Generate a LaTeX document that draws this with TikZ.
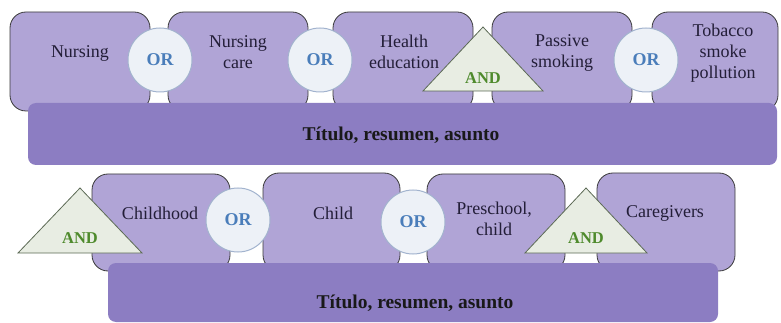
\documentclass[tikz,border=0pt]{standalone}
\usepackage{fontspec}
\setmainfont{Liberation Serif}
\definecolor{boxfill}{HTML}{B0A4D6}
\definecolor{barfill}{HTML}{8C7DC2}
\definecolor{boxline}{HTML}{3A3A3A}
\definecolor{circfill}{HTML}{EDF1F7}
\definecolor{circline}{HTML}{A2B3CE}
\definecolor{ortext}{HTML}{4A7DBA}
\definecolor{trifill}{HTML}{E8EDE3}
\definecolor{triline}{HTML}{5C6A55}
\definecolor{andtext}{HTML}{4E8A2C}
\definecolor{txt}{HTML}{231E38}
\tikzset{
  termbox/.style={draw=boxline, line width=0.8pt, fill=boxfill, rounded corners=16pt},
  barbox/.style={fill=barfill, rounded corners=8pt},
  termtext/.style={align=center, font=\fontsize{18}{21}\selectfont, text=txt, inner sep=0pt},
  bartext/.style={font=\fontsize{19.5}{22}\selectfont\bfseries, text=black!90, inner sep=0pt},
  orcirc/.style={circle, draw=circline, line width=1pt, fill=circfill, minimum size=64pt, inner sep=0pt, font=\fontsize{18}{20}\selectfont\bfseries, text=ortext},
  andtri/.style={draw=triline, line width=0.8pt, fill=trifill, line join=miter},
  andtext/.style={font=\fontsize{16.5}{18}\selectfont\bfseries, text=andtext, inner sep=0pt}
}
\begin{document}
\begin{tikzpicture}[x=1pt,y=-1pt]
\useasboundingbox (0,0) rectangle (781,323);
% top row boxes
\draw[termbox] (10,12) rectangle (150,111);
\draw[termbox] (168,12) rectangle (308,111);
\draw[termbox] (333,12) rectangle (473,111);
\draw[termbox] (492,12) rectangle (632,111);
\draw[termbox] (652,12) rectangle (778,111);
\node[termtext] (t1) at (80,53) {Nursing};
\node[termtext] (t2) at (238,52) {Nursing\\care};
\node[termtext] (t3) at (404,52) {Health\\education};
\node[termtext] (t4) at (562,53) {Passive\\smoking};
\node[termtext] (t5) at (723,53) {Tobacco\\smoke\\pollution};
% top bar
\fill[barbox] (28,103) rectangle (777,165);
\node[bartext] (b1) at (401,135) {Título, resumen, asunto};
% top operators
\node[orcirc] (o1) at (160,60) {OR};
\node[orcirc] (o2) at (320,60) {OR};
\node[orcirc] (o3) at (646,60) {OR};
\draw[andtri] (423,91) -- (483,27) -- (543,91) -- cycle;
\node[andtext] (a1) at (483,78) {AND};
% bottom row boxes
\draw[termbox] (92,174) rectangle (230,271);
\draw[termbox] (263,173) rectangle (400,271);
\draw[termbox] (427,174) rectangle (565,271);
\draw[termbox] (597,173) rectangle (735,271);
\node[termtext] (s1) at (160,213) {Childhood};
\node[termtext] (s2) at (333,213) {Child};
\node[termtext] (s3) at (494,219) {Preschool,\\child};
\node[termtext] (s4) at (665,213) {Caregivers};
% bottom bar
\fill[barbox] (108,263) rectangle (718,322);
\node[bartext] (b2) at (415,303) {Título, resumen, asunto};
% bottom operators
\node[orcirc] (o4) at (238,220) {OR};
\node[orcirc] (o5) at (413,222) {OR};
\draw[andtri] (18,253) -- (80,188) -- (142,253) -- cycle;
\node[andtext] (a2) at (80,238) {AND};
\draw[andtri] (525,253) -- (586,188) -- (647,253) -- cycle;
\node[andtext] (a3) at (586,238) {AND};
\end{tikzpicture}
\end{document}
